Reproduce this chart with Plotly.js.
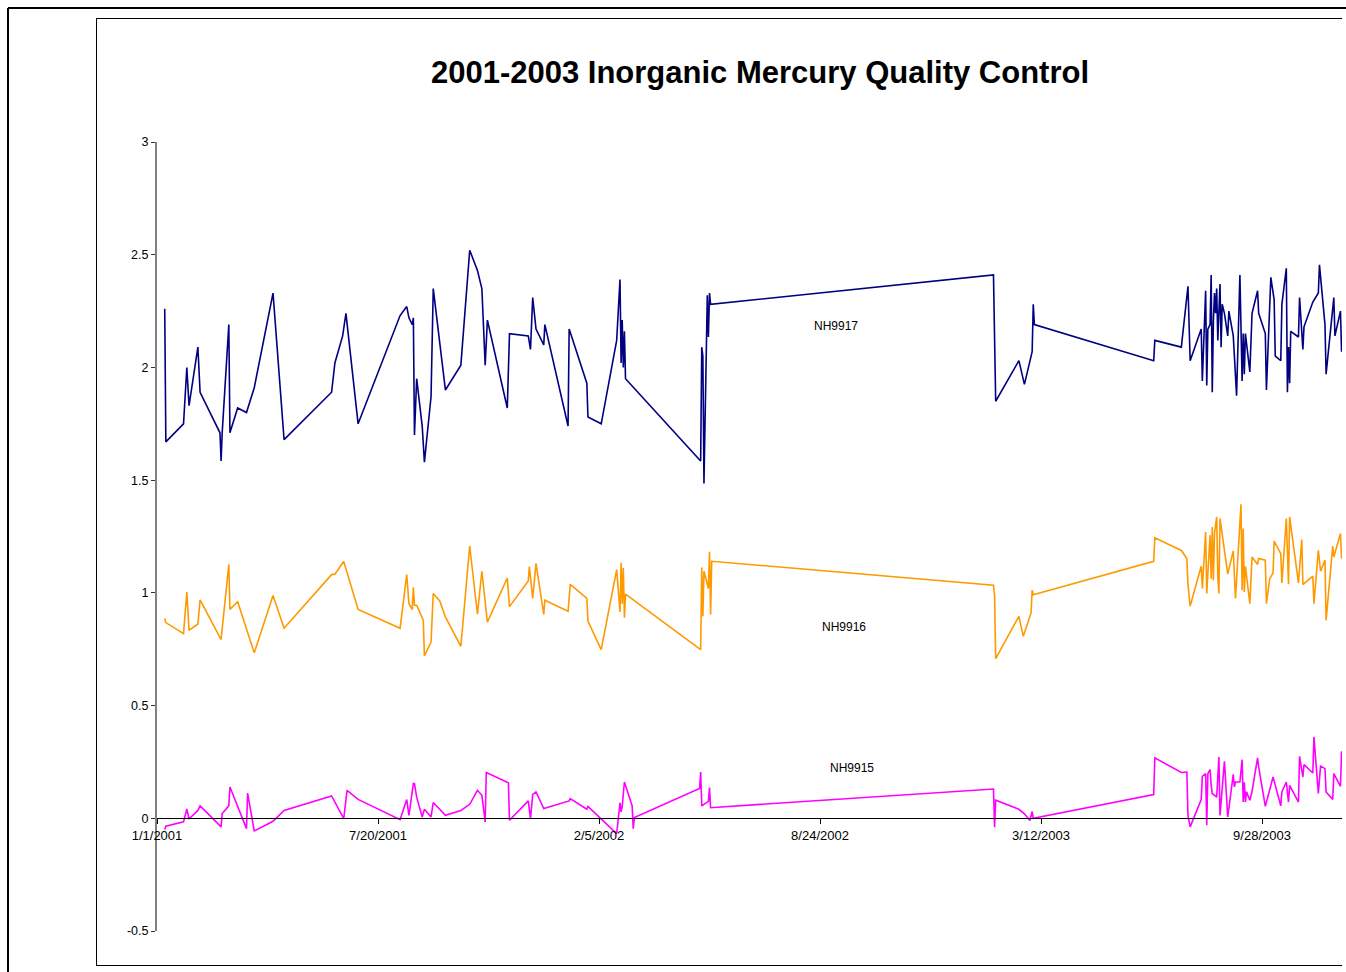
<!DOCTYPE html>
<html>
<head>
<meta charset="utf-8">
<script src="https://cdn.plot.ly/plotly-3.0.1.min.js"></script>
<style>html,body{margin:0;padding:0;background:#fff;}#chart{width:1346px;height:972px;}</style>
</head>
<body>
<div id="chart"></div>
<script>
const startDate = '2001-01-01';

const nh9917Days = [7,8,24,27,29,37,39,57,58,59,65,66,73,81,88,105,115,158,161,168,171,182,220,226,228,231,232,233,235,240,242,248,250,261,275,283,290,294,297,299,317,319,336,338,340,343,350,351,372,373,389,390,402,416,419,420,421,422,423,424,492,493,494,495,498,499,500,501,757,759,780,785,792,793,794,902,903,927,933,934,935,945,946,949,950,951,953,954,955,956,957,958,959,960,961,962,963,964,966,967,969,970,974,977,980,982,983,984,985,989,991,996,997,1003,1004,1008,1011,1012,1017,1018,1022,1023,1024,1025,1026,1033,1034,1037,1038,1046,1051,1052,1057,1058,1065,1066,1071,1072];
const nh9917Values = [2.26,1.67,1.75,2.00,1.83,2.09,1.89,1.71,1.585,1.71,2.19,1.71,1.82,1.80,1.91,2.33,1.68,1.89,2.02,2.14,2.24,1.75,2.23,2.27,2.22,2.19,2.22,1.70,1.95,1.74,1.58,1.87,2.35,1.90,2.01,2.52,2.43,2.35,2.01,2.21,1.82,2.15,2.14,2.08,2.31,2.17,2.10,2.19,1.74,2.17,1.93,1.78,1.75,2.12,2.39,2.02,2.21,2.00,2.16,1.95,1.585,2.09,2.05,1.485,2.32,2.135,2.33,2.28,2.41,1.85,2.03,1.925,2.07,2.28,2.19,2.03,2.12,2.09,2.36,2.13,2.03,2.17,1.94,2.34,1.92,2.17,2.19,2.41,1.89,2.20,2.33,2.24,2.35,2.12,2.22,2.37,2.09,2.28,2.24,2.20,2.14,2.25,2.14,1.875,2.41,1.94,2.15,1.97,2.15,1.98,2.24,2.34,2.24,2.15,1.90,2.40,2.30,2.05,2.03,2.28,2.44,1.89,2.09,1.93,2.16,2.135,2.31,2.08,2.18,2.29,2.33,2.455,2.19,1.97,2.31,2.14,2.25,2.07];

const nh9916Days = [7,8,24,27,29,37,39,58,65,66,73,81,88,105,115,158,161,169,182,220,226,228,231,232,233,235,241,242,248,250,256,261,275,283,290,294,299,317,319,336,337,340,343,350,351,372,374,389,390,402,416,419,420,421,422,423,424,492,493,494,495,499,500,501,502,757,758,759,780,784,791,792,793,902,903,927,932,933,935,945,946,949,950,953,954,955,956,957,959,960,961,962,966,969,974,975,976,981,982,983,984,985,989,991,996,997,1003,1004,1007,1010,1011,1017,1018,1022,1024,1025,1033,1036,1037,1046,1047,1051,1053,1057,1058,1064,1065,1071,1072];
const nh9916Values = [0.886,0.868,0.819,1.004,0.834,0.862,0.969,0.793,1.126,0.927,0.961,0.844,0.734,0.988,0.843,1.081,1.083,1.139,0.926,0.843,1.081,0.952,0.926,1.025,0.945,0.945,0.878,0.720,0.782,0.997,0.963,0.893,0.763,1.208,0.905,1.096,0.870,1.066,0.939,1.053,1.117,0.975,1.131,0.904,0.967,0.918,1.038,0.975,0.875,0.748,1.103,0.915,1.133,0.952,1.110,0.890,0.994,0.748,1.112,0.896,1.096,1.019,1.182,0.904,1.140,1.034,0.985,0.708,0.896,0.807,0.911,1.012,0.992,1.140,1.244,1.188,1.152,1.037,0.941,1.118,1.019,1.270,0.997,1.256,1.063,1.292,1.056,1.263,1.337,1.071,0.997,1.330,1.189,1.083,1.186,1.041,0.975,1.393,1.012,1.285,1.004,1.118,0.952,1.159,1.126,1.152,1.145,0.952,1.063,1.088,1.230,1.174,1.044,1.330,1.038,1.337,1.044,1.236,1.037,1.074,0.952,1.189,1.096,1.145,0.878,1.207,1.159,1.263,1.152];

const nh9915Days = [7,8,24,27,29,37,39,58,59,65,66,81,82,88,105,115,158,169,172,182,220,226,228,232,233,235,240,242,248,250,261,275,283,290,294,297,298,318,319,336,338,340,343,350,373,374,389,390,416,419,420,421,423,430,431,432,491,492,493,499,500,501,757,758,759,780,785,790,792,793,902,903,927,932,933,935,945,946,949,950,951,953,954,955,959,960,961,962,964,966,969,974,975,976,980,982,983,984,985,986,989,991,996,997,1003,1010,1017,1018,1022,1024,1025,1033,1034,1037,1038,1046,1047,1051,1053,1057,1058,1064,1065,1071,1072];
const nh9915Values = [-0.050,-0.035,-0.016,0.041,-0.003,0.035,0.055,-0.038,0.021,0.055,0.139,-0.046,0.112,-0.056,-0.013,0.035,0.099,-0.001,0.124,0.084,-0.006,0.083,0.013,0.154,0.154,0.094,0.006,0.040,0.006,0.070,0.013,0.035,0.062,0.124,0.102,-0.016,0.203,0.157,-0.009,0.077,-0.001,0.106,0.117,0.043,0.077,0.087,0.040,0.053,-0.068,0.068,0.028,0.053,0.161,0.055,-0.046,0.003,0.132,0.205,0.055,0.075,0.136,0.047,0.13,-0.04,0.08,0.04,0.02,-0.01,0.03,0.0,0.105,0.268,0.203,0.205,0.013,-0.038,0.083,0.186,0.198,-0.031,0.198,0.216,0.146,0.110,0.094,0.213,0.272,0.013,0.124,0.253,0.006,0.195,0.139,0.161,0.161,0.260,0.072,0.16,0.072,0.117,0.080,0.120,0.268,0.228,0.053,0.183,0.055,0.117,0.161,0.072,0.146,0.072,0.275,0.183,0.238,0.201,0.361,0.110,0.232,0.220,0.117,0.084,0.198,0.142,0.297];

const seriesNames = ['NH9917', 'NH9916', 'NH9915'];
const yTickValues = [-0.5, 0, 0.5, 1, 1.5, 2, 2.5, 3];
const yTickLabels = ['-0.5', '0', '0.5', '1', '1.5', '2', '2.5', '3'];
const chartTitle = '2001-2003 Inorganic Mercury Quality Control';

function toDate(d) {
  const t = Date.parse(startDate + 'T00:00:00Z') + d * 86400000;
  return new Date(t).toISOString().slice(0, 10);
}

const colors = ['#000080', '#FF9900', '#FF00FF'];
const daySets = [nh9917Days, nh9916Days, nh9915Days];
const valSets = [nh9917Values, nh9916Values, nh9915Values];

const traces = seriesNames.map((n, i) => ({
  type: 'scatter', mode: 'lines', name: n,
  x: daySets[i].map(toDate), y: valSets[i],
  line: {color: colors[i], width: 1.6},
  hoverinfo: 'x+y+name'
}));

// plot area: x 157..1342, y 142..931 (pixels)
const L = 157, R = 1342, T = 142, B = 931;
const px = x => (x - L) / (R - L);
const py = y => (B - y) / (B - T);

const shapes = [
  // outer frame
  {type:'line', xref:'paper', yref:'paper', x0:px(8), x1:px(1350), y0:py(8), y1:py(8), line:{color:'#000', width:2}},
  {type:'line', xref:'paper', yref:'paper', x0:px(8), x1:px(8), y0:py(8), y1:py(980), line:{color:'#000', width:2}},
  // inner chart frame
  {type:'line', xref:'paper', yref:'paper', x0:px(96), x1:px(1342), y0:py(18.5), y1:py(18.5), line:{color:'#000', width:1}},
  {type:'line', xref:'paper', yref:'paper', x0:px(96.5), x1:px(96.5), y0:py(18), y1:py(965), line:{color:'#000', width:1}},
  {type:'line', xref:'paper', yref:'paper', x0:px(96), x1:px(1342), y0:py(965.5), y1:py(965.5), line:{color:'#000', width:1}}
];

const labelPos = [[836, 326], [844, 627], [852, 768]];
const annotations = seriesNames.map((n, i) => ({
  text: n, xref:'paper', yref:'paper', x: px(labelPos[i][0]), y: py(labelPos[i][1]),
  xanchor:'center', yanchor:'middle', showarrow:false,
  font:{family:'Liberation Sans, Arial, sans-serif', size:12, color:'#000'}
}));

const layout = {
  width: 1346, height: 972,
  margin: {l: L, r: 1346 - R, t: T, b: 972 - B, pad: 0},
  paper_bgcolor: '#fff', plot_bgcolor: 'rgba(0,0,0,0)',
  showlegend: false,
  font: {family: 'Liberation Sans, Arial, sans-serif', color: '#000', size: 13},
  title: {
    text: '<b>' + chartTitle + '</b>',
    xref: 'container', yref: 'container', x: 760 / 1346, y: 1 - 72 / 972,
    xanchor: 'center', yanchor: 'middle',
    font: {family: 'Liberation Sans, Arial, sans-serif', size: 31, color: '#000'}
  },
  xaxis: {
    type: 'date',
    range: [startDate, toDate(1072) + ' 09:36'],
    anchor: 'free', position: 0.5 / 3.5,
    tick0: startDate, dtick: 200 * 86400000,
    tickformat: '%-m/%-d/%Y',
    showgrid: false, zeroline: false,
    showline: true, linecolor: '#000', linewidth: 1,
    ticks: 'outside', ticklen: 5, tickcolor: '#000', tickwidth: 1,
    tickfont: {size: 13, color: '#000'}
  },
  yaxis: {
    range: [-0.5, 3],
    tickvals: yTickValues, ticktext: yTickLabels,
    showgrid: false, zeroline: false,
    showline: true, linecolor: '#808080', linewidth: 2,
    ticks: 'outside', ticklen: 4, tickcolor: '#333', tickwidth: 1,
    tickfont: {size: 12.5, color: '#000'}
  },
  shapes: shapes,
  annotations: annotations
};

Plotly.newPlot('chart', traces, layout, {displayModeBar: false, staticPlot: true});
</script>
</body>
</html>
